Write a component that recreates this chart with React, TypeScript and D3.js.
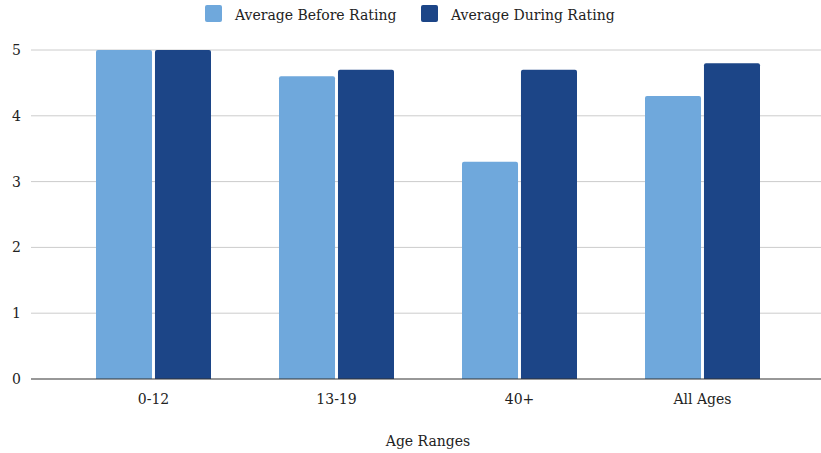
import React from "react";
import * as d3 from "d3";

const categories = ["0-12", "13-19", "40+", "All Ages"];
const seriesNames = ["Average Before Rating", "Average During Rating"];
const beforeValues = [5, 4.6, 3.3, 4.3];
const duringValues = [5, 4.7, 4.7, 4.8];
const yTicks = [0, 1, 2, 3, 4, 5];
const colors = ["#6fa8dc", "#1c4587"];

const W = 821;
const H = 453;
const font = "'DejaVu Serif', serif";

export default function App() {
  const x = d3.scaleBand<string>().domain(categories).range([62, 794]).paddingInner(0).paddingOuter(0);
  const y = d3.scaleLinear().domain([0, 5]).range([379, 50]);
  const inner = d3.scaleBand<number>().domain([0, 1]).range([0, 115]).paddingInner(0.05);
  const groupW = 115;
  const series = [beforeValues, duringValues];
  const ts: React.CSSProperties = { fontFamily: font, fontSize: 14 };

  return (
    <svg width={W} height={H} style={{ position: "absolute", left: 0, top: 0, background: "#fff" }}>
      {/* legend */}
      <g>
        <rect x={205} y={5} width={17} height={17} rx={2} fill={colors[0]} />
        <text x={235} y={20} style={ts} fill="#222">{seriesNames[0]}</text>
        <rect x={421} y={5} width={17} height={17} rx={2} fill={colors[1]} />
        <text x={451} y={20} style={ts} fill="#222">{seriesNames[1]}</text>
      </g>
      {/* grid */}
      {yTicks.map((t) => (
        <g key={t}>
          {t !== 0 && <line x1={31} x2={821} y1={y(t)} y2={y(t)} stroke="#cccccc" strokeWidth={1} />}
          <text x={21} y={y(t)} dy="0.35em" textAnchor="end" style={ts} fill="#222">{t}</text>
        </g>
      ))}
      {/* bars */}
      {categories.map((c, i) => {
        const gx = (x(c) as number) + x.bandwidth() / 2 - groupW / 2;
        return (
          <g key={c}>
            {series.map((vals, s) => {
              const bx = gx + (inner(s) as number);
              const by = y(vals[i]);
              return (
                <path
                  key={s}
                  d={`M${bx},${y(0)} V${by + 2} Q${bx},${by} ${bx + 2},${by} H${bx + inner.bandwidth() - 2} Q${bx + inner.bandwidth()},${by} ${bx + inner.bandwidth()},${by + 2} V${y(0)} Z`}
                  fill={colors[s]}
                />
              );
            })}
            <text x={(x(c) as number) + x.bandwidth() / 2} y={404} textAnchor="middle" style={ts} fill="#222">{c}</text>
          </g>
        );
      })}
      <line x1={31} x2={821} y1={y(0)} y2={y(0)} stroke="#333" strokeWidth={1.2} />
      <text x={428} y={446} textAnchor="middle" style={ts} fill="#222">Age Ranges</text>
    </svg>
  );
}
